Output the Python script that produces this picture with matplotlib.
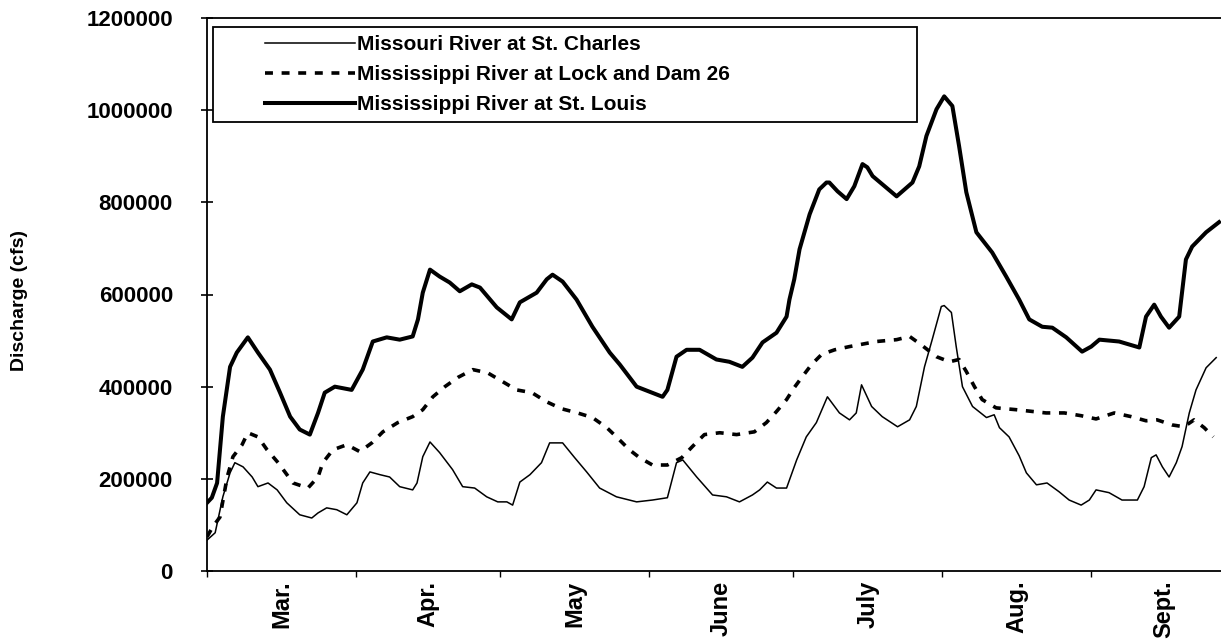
import matplotlib
matplotlib.use("Agg")
import matplotlib.pyplot as plt
from matplotlib.ticker import FixedLocator, NullFormatter
from matplotlib.legend_handler import HandlerLine2D

plt.rcParams['font.family'] = ['Liberation Sans', 'DejaVu Sans']
plt.rcParams['font.weight'] = 'bold'

# days since March 1, discharge in thousands of cfs
stl_day = [0, 1.0, 2.1, 3.3, 4.8, 6.2, 8.5, 10.6, 13.1, 15.2, 17.3, 19.3, 21.4, 23.1, 24.5,
           26.6, 30.1, 32.4, 34.5, 37.4, 40.1, 42.8, 43.9, 44.9, 46.4, 48.4, 50.5, 52.6,
           55.1, 56.8, 60.3, 63.4, 65.1, 68.6, 70.7, 71.9, 74.0, 76.9, 80.2, 83.8, 85.9,
           89.4, 94.8, 95.8, 97.7, 99.8, 102.5, 106.0, 108.7, 111.4, 113.5, 115.6, 118.5,
           120.6, 121.2, 122.2, 123.3, 125.4, 127.4, 128.9, 129.5, 131.2, 133.1, 134.7,
           136.4, 137.4, 138.5, 141.0, 143.5, 146.8, 148.2, 149.7, 151.8, 153.4, 155.1,
           156.5, 158.0, 160.1, 163.4, 166.3, 169.0, 171.1, 173.8, 175.9, 178.8, 182.1,
           184.0, 185.7, 189.8, 194.0, 195.4, 197.1, 198.5, 200.2, 202.3, 203.7, 205.0,
           207.9, 210.6]
stl_cfs = [148, 159, 191, 335, 443, 474, 507, 474, 437, 387, 335, 307, 296, 343, 387,
           400, 393, 437, 498, 507, 502, 509, 546, 604, 654, 639, 626, 607,
           622, 615, 572, 546, 583, 604, 633, 643, 628, 589, 530, 474, 448,
           400, 378, 393, 465, 480, 480, 459, 454, 443, 463, 496, 517,
           552, 589, 633, 698, 774, 828, 843, 843, 824, 807, 835,
           883, 876, 857, 835, 813, 843, 878, 944, 1002, 1030, 1009,
           922, 822, 735, 691, 639, 589, 546, 530, 528, 507, 476,
           487, 502, 498, 485, 552, 578, 552, 528, 552, 676, 704,
           735, 757]

lock_day = [0, 1.2, 2.7, 4.2, 5.4, 7.3, 8.5, 10.6, 12.5, 14.8, 17.9, 21.0, 23.1, 24.1,
            26.2, 29.1, 31.8, 34.3, 36.6, 39.7, 42.8, 44.9, 47.0, 49.5, 52.2, 55.3, 58.4,
            61.5, 64.4, 67.6, 70.7, 73.8, 77.1, 80.2, 83.2, 85.4, 87.9, 90.0, 92.7, 95.8,
            98.8, 101.0, 103.5, 106.7, 110.2, 113.9, 116.4, 118.5, 120.6, 122.2, 123.9,
            125.8, 127.9, 130.6, 133.7, 139.3, 143.5, 146.2, 148.6, 151.8, 154.5, 156.5,
            158.0, 159.7, 161.3, 164.2, 168.4, 174.6, 178.4, 181.9, 185.0, 188.8, 192.3,
            195.4, 197.7, 200.8, 203.3, 205.4, 207.5, 209.4]
lock_cfs = [74, 96, 117, 204, 248, 274, 300, 291, 263, 235, 191, 180, 204, 235,
            263, 274, 259, 278, 302, 322, 335, 350, 378, 400, 420, 437, 430,
            411, 393, 387, 367, 352, 343, 333, 311, 289, 263, 246, 230, 230,
            246, 270, 296, 300, 296, 302, 322, 346, 372, 398, 422,
            448, 470, 480, 487, 498, 502, 509, 491, 465, 454, 459,
            433, 400, 372, 354, 350, 343, 343, 337, 330, 343, 335,
            326, 328, 317, 313, 328, 311, 291]

mo_day = [0, 1.7, 3.3, 4.8, 5.8, 7.5, 9.4, 10.6, 12.7, 14.6, 16.6, 19.3, 21.8, 23.1,
          24.9, 27.0, 29.1, 31.2, 32.4, 33.9, 36.0, 38.0, 40.1, 42.8, 43.7, 44.9, 46.4,
          48.4, 51.1, 53.2, 55.7, 58.2, 60.5, 62.4, 63.6, 65.1, 67.2, 69.6, 71.3, 74.0,
          76.5, 79.0, 81.7, 85.2, 89.4, 92.7, 95.8, 97.7, 99.0, 101.9, 105.2, 108.1,
          110.8, 113.5, 115.0, 116.6, 118.5, 120.6, 122.7, 124.7, 126.8, 129.1, 131.6,
          133.7, 135.1, 136.2, 138.3, 140.5, 143.7, 146.2, 147.6, 149.3, 150.9, 152.8,
          153.4, 154.9, 155.9, 157.2, 159.3, 162.2, 163.8, 164.9, 166.9, 169.0, 170.5,
          172.6, 174.8, 177.3, 179.4, 181.9, 183.6, 185.0, 187.7, 190.4, 193.6, 195.0,
          196.5, 197.5, 198.8, 200.2, 201.7, 202.9, 204.4, 205.8, 207.9, 210.0]
mo_cfs = [67, 83, 161, 213, 235, 226, 204, 183, 191, 176, 148, 122, 115, 126,
          137, 133, 122, 148, 191, 215, 209, 204, 183, 176, 191, 248, 280,
          257, 220, 183, 180, 161, 150, 150, 143, 193, 209, 235, 278, 278,
          246, 215, 180, 161, 150, 154, 159, 235, 241, 204, 165, 161,
          150, 165, 176, 193, 180, 180, 241, 291, 322, 378, 343,
          328, 343, 404, 357, 335, 313, 328, 357, 443, 502, 574,
          576, 561, 487, 400, 357, 333, 339, 311, 291, 250, 213,
          187, 191, 172, 154, 143, 154, 176, 170, 154, 154, 183,
          246, 252, 226, 204, 235, 270, 343, 393, 441, 463]

month_starts = [0, 31, 61, 92, 122, 153, 184]
month_labels = ["Mar.", "Apr.", "May", "June", "July", "Aug.", "Sept."]
month_mids = [15.5, 46, 76.5, 107, 137.5, 168.5, 199]
y_ticks = [0, 200000, 400000, 600000, 800000, 1000000, 1200000]


class ShiftedLine(HandlerLine2D):
    # legend line starts a bit in from the frame edge, like the original
    def create_artists(self, legend, orig_handle, xdescent, ydescent, width,
                       height, fontsize, trans):
        shift = width * 0.33
        return super().create_artists(legend, orig_handle, xdescent - shift, ydescent,
                                      width - shift, height, fontsize, trans)


fig = plt.figure(figsize=(12.21, 6.42), dpi=100)
ax = fig.add_axes([207 / 1221, 71 / 642, 1014 / 1221, 553 / 642])

ax.plot(mo_day, [v * 1000 for v in mo_cfs], color="black", lw=1.1,
        label="Missouri River at St. Charles")
ax.plot(lock_day, [v * 1000 for v in lock_cfs], color="black", lw=2.6,
        linestyle=(0, (2.2, 2.4)), label="Mississippi River at Lock and Dam 26")
ax.plot(stl_day, [v * 1000 for v in stl_cfs], color="black", lw=2.9,
        label="Mississippi River at St. Louis")

ax.set_xlim(0, 211)
ax.set_ylim(0, 1200000)
ax.spines["right"].set_visible(False)
for s in ["left", "top", "bottom"]:
    ax.spines[s].set_linewidth(1.3)

ax.set_yticks(y_ticks)
ax.set_yticklabels([str(v) for v in y_ticks], fontsize=16, fontweight="bold")
ax.tick_params(axis="y", direction="inout", length=9, width=1.2, pad=20)

ax.xaxis.set_major_locator(FixedLocator(month_starts))
ax.xaxis.set_major_formatter(NullFormatter())
ax.xaxis.set_minor_locator(FixedLocator(month_mids))
ax.set_xticklabels(month_labels, minor=True, rotation=90, fontsize=17, fontweight="bold")
ax.tick_params(axis="x", which="major", direction="out", length=4, width=1)
ax.tick_params(axis="x", which="minor", length=0, pad=7)

ax.set_ylabel("Discharge (cfs)", fontsize=14, fontweight="bold")
ax.yaxis.set_label_coords(-0.177, 0.49)

leg = ax.legend(loc="upper left", bbox_to_anchor=(0.006, 0.984, 0.694, 0.0), mode="expand",
                fancybox=False, framealpha=1, edgecolor="black", handlelength=6.4,
                handletextpad=0.1, borderpad=0.4, labelspacing=0.52, borderaxespad=0,
                handler_map={plt.Line2D: ShiftedLine()},
                prop={"weight": "bold", "size": 15})
leg.get_frame().set_linewidth(1.3)

fig.savefig("out.png", dpi=100)
